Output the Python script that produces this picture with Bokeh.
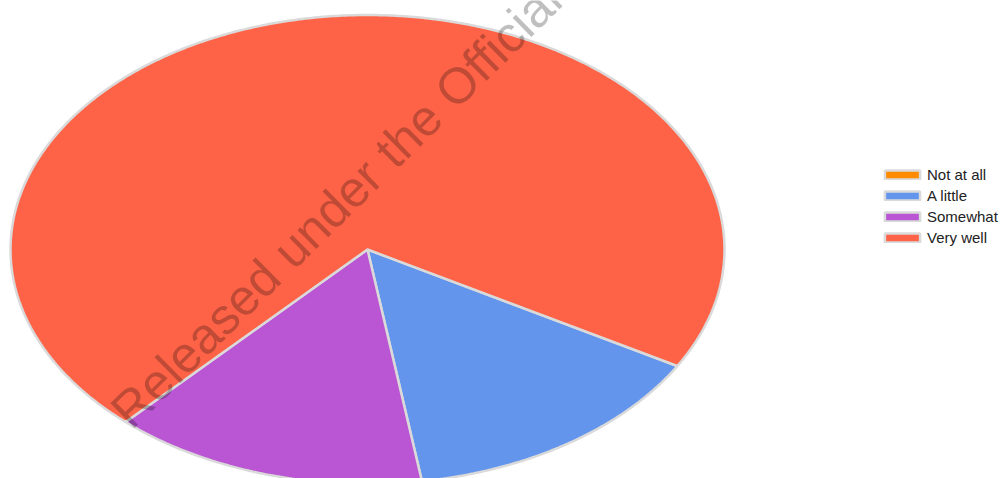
import numpy as np
from bokeh.plotting import figure
from bokeh.models import ColumnDataSource, Range1d, Legend, LegendItem, Label
from bokeh.embed import file_html
from bokeh.resources import INLINE

categories = ["Not at all", "A little", "Somewhat", "Very well"]
values = [0, 1, 1, 5]
colors = ["#FF8C00", "#6495ED", "#BA55D3", "#FF6347"]
watermark = "Released under the Official Information Act"

W, H = 1006, 478
CX, CY = 367, 249      # pie centre in px from the figure's top-left
RX, RY = 357, 234.5    # pie radii in px (the pie is stretched into an ellipse)
START = 119.8          # first slice, degrees clockwise from 12 o'clock

p = figure(width=W, height=H, output_backend="svg", toolbar_location=None,
           x_range=Range1d(-CX / RX, (W - CX) / RX),
           y_range=Range1d(-(H - CY) / RY, CY / RY),
           min_border=0)
p.axis.visible = False
p.grid.visible = False
p.outline_line_color = None

total = sum(values)
xs, ys = [], []
a = np.radians(START)
for v in values:
    span = 2 * np.pi * v / total
    t = np.linspace(a, a + span, max(2, int(np.degrees(span)) * 2 + 2))
    xs.append([0.0] + list(np.sin(t)))
    ys.append([0.0] + list(np.cos(t)))
    a += span

src = ColumnDataSource(dict(xs=xs, ys=ys, cat=categories, color=colors))
r = p.patches("xs", "ys", source=src, fill_color="color",
              line_color="#dadada", line_width=2.5)

wm = Label(x=119, y=H - 418, x_units="screen", y_units="screen", text=watermark,
           angle=44.6, angle_units="deg", text_font="Liberation Sans",
           text_font_size="50.5px", text_color="black", text_alpha=0.25,
           text_baseline="alphabetic", text_align="left")
p.add_layout(wm)

items = [LegendItem(label=c, renderers=[r], index=i) for i, c in enumerate(categories)]
legend = Legend(items=items, location=(880, H - 246), orientation="vertical",
                glyph_width=44, glyph_height=11, label_height=11, label_standoff=3,
                spacing=4, padding=0, margin=0, border_line_color=None,
                background_fill_alpha=0, label_text_font="Liberation Sans",
                label_text_font_size="15px", label_text_color="#222222")
p.add_layout(legend)

open("out.html", "w").write(file_html(p, INLINE))
